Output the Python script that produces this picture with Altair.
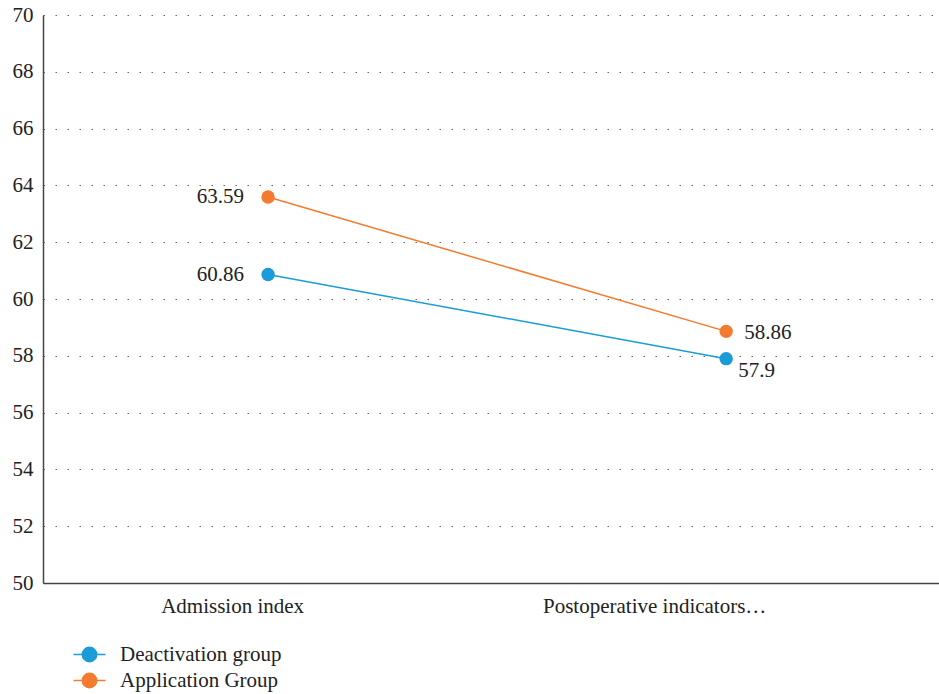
import altair as alt
import pandas as pd

categories = ["Admission index", "Postoperative indicators…"]
groups = ["Deactivation group", "Application Group"]
deactivation = [60.86, 57.9]
application = [63.59, 58.86]
colors = ["#1B9BD7", "#F37B2F"]

rows = []
for g, vals in zip(groups, [deactivation, application]):
    for c, v in zip(categories, vals):
        rows.append({"category": c, "group": g, "value": v, "label": f"{v:g}"})
df = pd.DataFrame(rows)

font = "Liberation Serif"
fs = 21
sym = "M-2,0L2,0M-0.9,0A0.9,0.9 0 1 1 0.9,0A0.9,0.9 0 1 1 -0.9,0Z"

x = alt.X("category:N", sort=categories, title=None,
          scale=alt.Scale(type="point", padding=0.478, align=0.514),
          axis=alt.Axis(labelFont=font, labelFontSize=fs, labelColor="#222",
                        ticks=False, labelPadding=12, domainColor="#444",
                        domainWidth=1.5, labelAngle=0, labelLimit=400,
                        labelOffset={"condition": {"test": f"datum.value == '{categories[0]}'",
                                                   "value": -36}, "value": -72}))
y = alt.Y("value:Q", title=None,
          scale=alt.Scale(domain=[50, 70], nice=False, zero=False),
          axis=alt.Axis(values=list(range(50, 71, 2)), labelFont=font,
                        labelFontSize=fs, labelColor="#222", ticks=False,
                        labelPadding=10, domainColor="#444", domainWidth=1.5,
                        grid=True, gridDash=[1.5, 10.5], gridColor="#666",
                        gridWidth=1.2))
cscale = alt.Scale(domain=groups, range=colors)
leg = alt.Legend(title=None, orient="none", legendX=36, legendY=629,
                 symbolType=sym, symbolSize=256, symbolStrokeWidth=1.5,
                 labelFont=font, labelFontSize=fs, labelColor="#222",
                 labelLimit=400, rowPadding=4, labelOffset=20,
                 direction="vertical")
col = alt.Color("group:N", sort=groups, scale=cscale, legend=leg)

base = alt.Chart(df)
lines = base.mark_line(strokeWidth=1.5).encode(x=x, y=y, color=col)
points = base.mark_point(filled=True, size=180, opacity=1, stroke=None).encode(
    x=x, y=y, color=col)

txt = dict(font=font, fontSize=fs, color="#222", baseline="middle")
lab1 = base.transform_filter(alt.datum.category == categories[0]).mark_text(
    align="right", dx=-24, **txt).encode(x=x, y=y, text="label:N")
lab2 = base.transform_filter((alt.datum.category == categories[1]) & (alt.datum.group == groups[1])).mark_text(
    align="left", dx=18, dy=2, **txt).encode(x=x, y=y, text="label:N")
lab3 = base.transform_filter((alt.datum.category == categories[1]) & (alt.datum.group == groups[0])).mark_text(
    align="left", dx=12, dy=12, **txt).encode(x=x, y=y, text="label:N")

chart = alt.layer(lines, points, lab1, lab2, lab3).properties(
    width=896, height=568,
    autosize=alt.AutoSizeParams(type="none"),
    padding={"left": 43, "top": 15, "right": 0, "bottom": 111},
    background="white",
).configure_view(stroke=None)

chart.save("out.html", embed_options={"renderer": "svg", "actions": False})
